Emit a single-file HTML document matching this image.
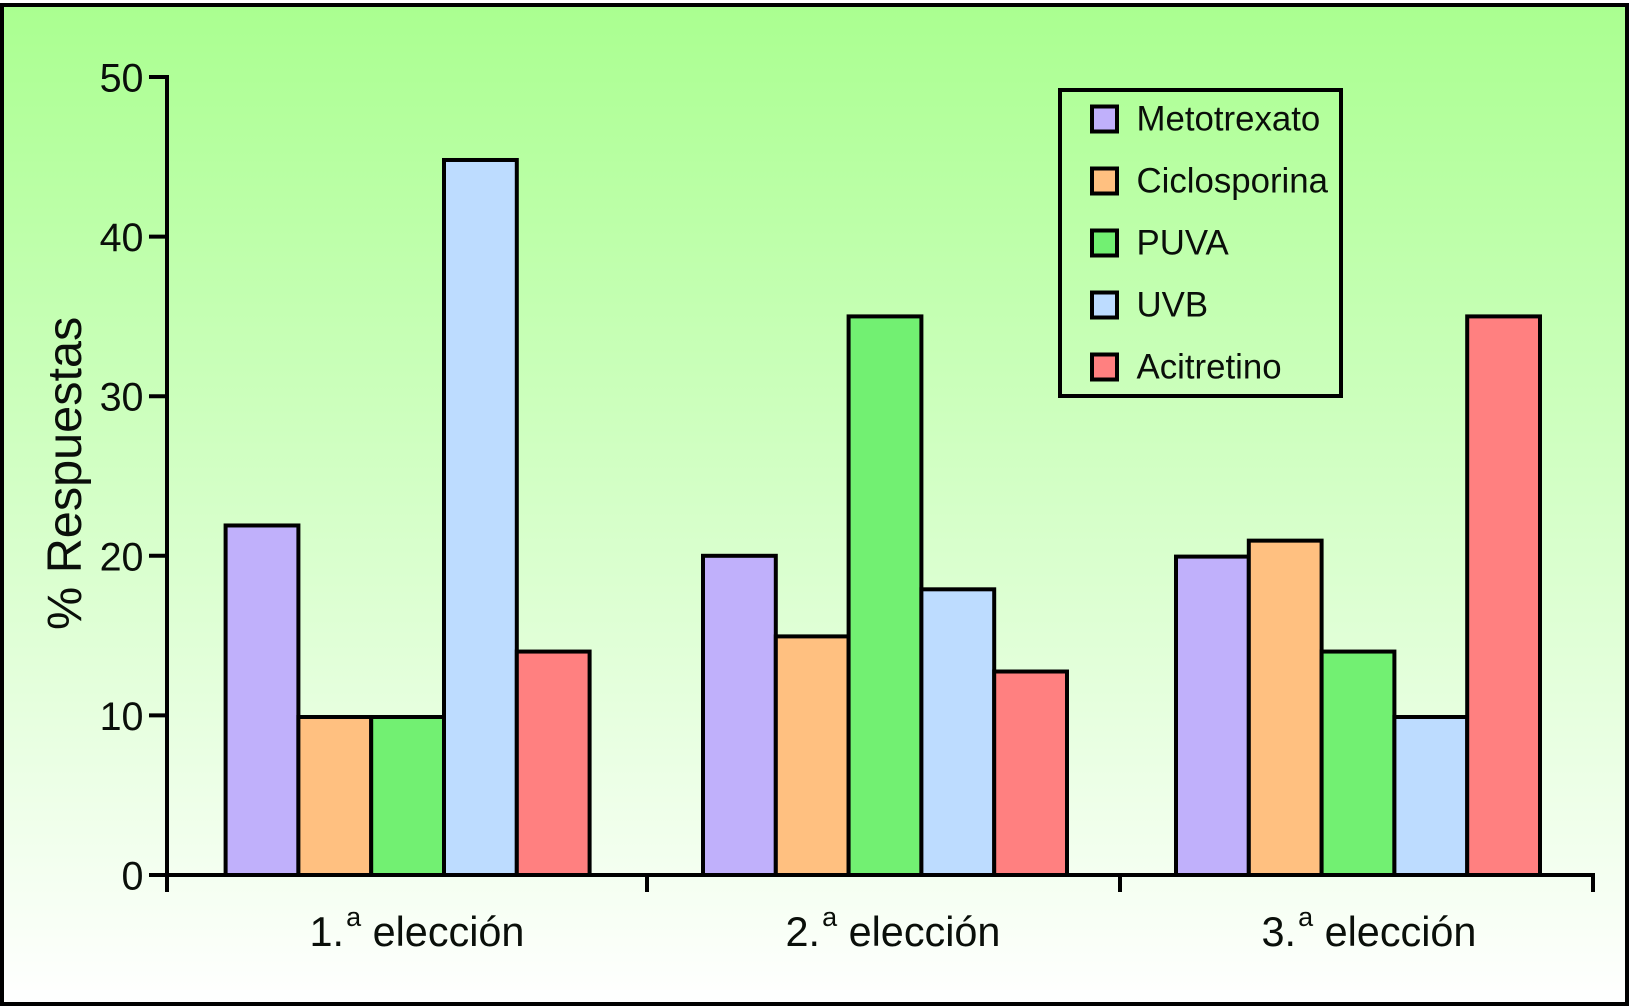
<!DOCTYPE html>
<html lang="es">
<head>
<meta charset="utf-8">
<title>% Respuestas</title>
<style>
html,body{margin:0;padding:0;background:#fff;width:1632px;height:1007px;overflow:hidden}
svg{display:block}
text{font-family:"Liberation Sans",sans-serif;fill:#0a0f0a}
</style>
</head>
<body>
<svg id="chart" xmlns="http://www.w3.org/2000/svg" width="1632" height="1007" viewBox="0 0 1632 1007">
<defs>
<linearGradient id="bg" x1="0" y1="0" x2="0" y2="1">
<stop offset="0" stop-color="#aaff90"/>
<stop offset="1" stop-color="#ffffff"/>
</linearGradient>
</defs>
<rect x="2" y="5" width="1625" height="999" fill="url(#bg)" stroke="#000" stroke-width="4"/>
<text transform="translate(81,630) rotate(-90)" font-size="48.6">% Respuestas</text>
<g id="bars"></g>
<g id="axes"></g>
<g id="legend"></g>
</svg>
<script>
const categories = ['1.', '2.', '3.'];
const seriesNames = ['Metotrexato', 'Ciclosporina', 'PUVA', 'UVB', 'Acitretino'];
const metotrexato = [21.9, 20, 19.95];
const ciclosporina = [9.9, 14.95, 20.95];
const puva = [9.9, 35, 14];
const uvb = [44.8, 17.9, 9.9];
const acitretino = [14, 12.75, 35];
const yTicks = [0, 10, 20, 30, 40, 50];

const seriesValues = [metotrexato, ciclosporina, puva, uvb, acitretino];
const colors = ['#c0b0fb', '#ffc080', '#72f072', '#bddcff', '#ff8080'];
const NS = 'http://www.w3.org/2000/svg';
const barW = 72.8;

function y(v) { return 875 - v * 15.96; }
function groupX(i) { return 225.6 + 477.4 * Math.min(i, 1) + 473 * Math.max(i - 1, 0); }
function tickX(i) { return 647 + 473 * i; }
function labelX(i) { return 417 + 476 * Math.min(i, 1) + 476 * Math.max(i - 1, 0); }
function make(tag, attrs, parent) {
  const el = document.createElementNS(NS, tag);
  for (const k in attrs) el.setAttribute(k, attrs[k]);
  parent.appendChild(el);
  return el;
}

const barsG = document.getElementById('bars');
const axesG = document.getElementById('axes');
const legendG = document.getElementById('legend');

categories.forEach(function (cat, c) {
  seriesValues.forEach(function (vals, s) {
    const r = make('rect', {
      x: groupX(c) + s * barW, y: y(vals[c]), width: barW, height: y(0) - y(vals[c]),
      fill: colors[s], stroke: '#000', 'stroke-width': 4
    }, barsG);
    
    
  });
});

const yAxis = make('line', { x1: 167, x2: 167, y1: y(50) - 2, y2: 892, stroke: '#000', 'stroke-width': 4 }, axesG);



const xAxis = make('line', { x1: 165, x2: tickX(2) + 2, y1: y(0), y2: y(0), stroke: '#000', 'stroke-width': 4 }, axesG);



yTicks.forEach(function (t) {
  const tick = make('line', { x1: 149, x2: 167, y1: y(t), y2: y(t), stroke: '#000', 'stroke-width': 4 }, axesG);
  
  
  const label = make('text', { x: 143.5, y: y(t) + 14.5, 'text-anchor': 'end', 'font-size': 39.5 }, axesG);
  label.textContent = t;
  
  
});

categories.forEach(function (cat, c) {
  const tick = make('line', { x1: tickX(c), x2: tickX(c), y1: y(0), y2: 892, stroke: '#000', 'stroke-width': 4 }, axesG);
  
  

  const label = make('text', { x: labelX(c), y: 946, 'text-anchor': 'middle', 'font-size': 41.4 }, axesG);
  
  
  const a = make('tspan', {}, label);
  a.textContent = cat;
  const b = make('tspan', { dy: -20, dx: 2, 'font-size': 27 }, label);
  b.textContent = 'a';
  const d = make('tspan', { dy: 20 }, label);
  d.textContent = ' elección';
});

const legendBox = make('rect', { x: 1060, y: 90, width: 281, height: 306, fill: 'none', stroke: '#000', 'stroke-width': 4 }, legendG);



seriesNames.forEach(function (name, i) {
  const rowY = 119 + i * 62;
  const sw = make('rect', { x: 1092, y: rowY - 12.5, width: 25, height: 25, fill: colors[i], stroke: '#000', 'stroke-width': 4 }, legendG);
  
  
  const t = make('text', { x: 1136.5, y: rowY + 11.5, 'font-size': 34.8 }, legendG);
  t.textContent = name;
  
  
});
</script>
</body>
</html>
